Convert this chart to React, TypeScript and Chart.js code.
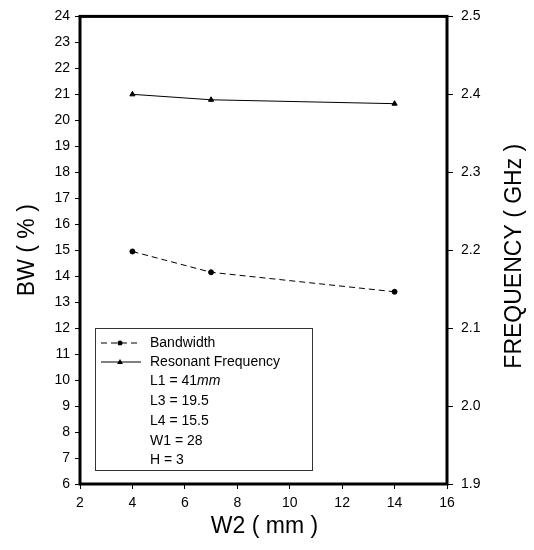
import React, { useEffect, useRef } from "react";
import { Chart, registerables } from "chart.js";

Chart.register(...registerables);

const w2Values = [4, 7, 14];
const bandwidth = [14.95, 14.15, 13.4];
const resonantFreq = [2.4, 2.393, 2.388];
const legendParams = ["L1 = 41", "L3 = 19.5", "L4 = 15.5", "W1 = 28", "H = 3"];
const xTitle = "W2 ( mm )";
const yLeftTitle = "BW ( % )";
const yRightTitle = "FREQUENCY ( GHz )";
const seriesNames = ["Bandwidth", "Resonant Frequency"];

const FONT = "'Liberation Sans', Arial, sans-serif";

const decorPlugin = {
  id: "decor",
  afterDraw(chart: any) {
    const ctx = chart.ctx;
    const a = chart.chartArea;
    ctx.save();
    // frame
    ctx.strokeStyle = "#000";
    ctx.lineWidth = 3;
    ctx.strokeRect(a.left, a.top, a.right - a.left, a.bottom - a.top);

    // axis titles
    ctx.fillStyle = "#000";
    ctx.font = `23px ${FONT}`;
    ctx.textAlign = "center";
    ctx.textBaseline = "middle";
    ctx.fillText(xTitle, (a.left + a.right) / 2 + 1, 527);
    ctx.save();
    ctx.translate(28, (a.top + a.bottom) / 2);
    ctx.rotate(-Math.PI / 2);
    ctx.fillText(yLeftTitle, 0, 0);
    ctx.restore();
    ctx.save();
    ctx.translate(515, (a.top + a.bottom) / 2 + 6);
    ctx.rotate(-Math.PI / 2);
    ctx.fillText(yRightTitle, 0, 0);
    ctx.restore();

    // legend box
    const bx = 95.5, by = 328.5, bw = 217, bh = 142;
    ctx.lineWidth = 1;
    ctx.strokeStyle = "#333";
    ctx.strokeRect(bx, by, bw, bh);

    ctx.font = `14px ${FONT}`;
    ctx.textAlign = "left";
    ctx.fillStyle = "#000";
    const tx = 150;
    const rows = [343, 362, 381, 401, 421, 441, 460];

    // bandwidth sample
    ctx.strokeStyle = "#000";
    ctx.lineWidth = 1;
    ctx.setLineDash([6, 4]);
    ctx.beginPath();
    ctx.moveTo(101, rows[0]);
    ctx.lineTo(141, rows[0]);
    ctx.stroke();
    ctx.setLineDash([]);
    ctx.beginPath();
    ctx.arc(120, rows[0], 2.5, 0, Math.PI * 2);
    ctx.fill();
    ctx.fillText(seriesNames[0], tx, rows[0]);

    // frequency sample
    ctx.beginPath();
    ctx.moveTo(101, rows[1]);
    ctx.lineTo(141, rows[1]);
    ctx.stroke();
    ctx.beginPath();
    ctx.moveTo(120, rows[1] - 3);
    ctx.lineTo(123, rows[1] + 2);
    ctx.lineTo(117, rows[1] + 2);
    ctx.closePath();
    ctx.fill();
    ctx.fillText(seriesNames[1], tx, rows[1]);

    legendParams.forEach((t, i) => {
      ctx.font = `14px ${FONT}`;
      ctx.fillText(t, tx, rows[i + 2]);
      if (i === 0) {
        const w = ctx.measureText(t).width;
        ctx.font = `italic 14px ${FONT}`;
        ctx.fillText("mm", tx + w, rows[i + 2]);
      }
    });
    ctx.restore();
  },
};

export default function App() {
  const ref = useRef<HTMLCanvasElement>(null);
  useEffect(() => {
    document.body.style.margin = "0";
    const tickFont = { family: FONT, size: 14 };
    const chart = new Chart(ref.current!, {
      type: "line",
      data: {
        datasets: [
          {
            label: seriesNames[0],
            data: w2Values.map((x, i) => ({ x, y: bandwidth[i] })),
            yAxisID: "yL",
            borderColor: "#000",
            backgroundColor: "#000",
            borderWidth: 1,
            borderDash: [6, 4],
            pointStyle: "circle",
            pointRadius: 2.5,
            tension: 0,
          },
          {
            label: seriesNames[1],
            data: w2Values.map((x, i) => ({ x, y: resonantFreq[i] })),
            yAxisID: "yR",
            borderColor: "#000",
            backgroundColor: "#000",
            borderWidth: 1,
            pointStyle: "triangle",
            pointRadius: 3,
            tension: 0,
          },
        ],
      },
      options: {
        responsive: false,
        animation: false,
        layout: { padding: { top: 15, left: 0, right: 0, bottom: 0 } },
        plugins: { legend: { display: false }, tooltip: { enabled: false } },
        scales: {
          x: {
            type: "linear",
            min: 2,
            max: 16,
            ticks: { stepSize: 2, color: "#000", font: tickFont, padding: 6 },
            grid: { drawOnChartArea: false, tickLength: 5, color: "#000" },
            border: { display: false },
            afterFit: (s: any) => { s.height = 66; },
          },
          yL: {
            type: "linear",
            position: "left",
            min: 6,
            max: 24,
            ticks: { stepSize: 1, color: "#000", font: tickFont, padding: 5 },
            grid: { drawOnChartArea: false, tickLength: 5, color: "#000" },
            border: { display: false },
            afterFit: (s: any) => { s.width = 80; },
          },
          yR: {
            type: "linear",
            position: "right",
            min: 1.9,
            max: 2.5,
            ticks: {
              stepSize: 0.1,
              color: "#000",
              font: tickFont,
              padding: 8,
              callback: (v: any) => Number(v).toFixed(1),
            },
            grid: { drawOnChartArea: false, tickLength: 6, color: "#000" },
            border: { display: false },
            afterFit: (s: any) => { s.width = 87; },
          },
        },
      },
      plugins: [decorPlugin],
    } as any);
    return () => chart.destroy();
  }, []);
  return (
    <div style={{ width: 534, height: 550 }}>
      <canvas ref={ref} width={534} height={550} style={{ display: "block" }} />
    </div>
  );
}
